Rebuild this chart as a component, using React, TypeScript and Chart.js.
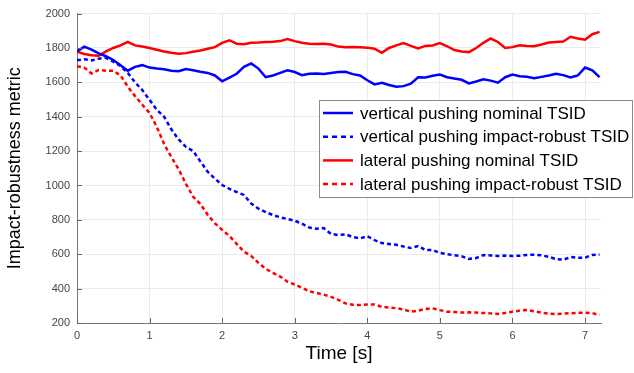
import React, { useEffect, useRef } from "react";
import { Chart, registerables } from "chart.js";

Chart.register(...registerables);

const TIME = [
  0, 0.1, 0.2, 0.3, 0.4, 0.5, 0.6, 0.7, 0.8, 0.9,
  1.0, 1.1, 1.2, 1.3, 1.4, 1.5, 1.6, 1.7, 1.8, 1.9,
  2.0, 2.1, 2.2, 2.3, 2.4, 2.5, 2.6, 2.7, 2.8, 2.9,
  3.0, 3.1, 3.2, 3.3, 3.4, 3.5, 3.6, 3.7, 3.8, 3.9,
  4.0, 4.1, 4.2, 4.3, 4.4, 4.5, 4.6, 4.7, 4.8, 4.9,
  5.0, 5.1, 5.2, 5.3, 5.4, 5.5, 5.6, 5.7, 5.8, 5.9,
  6.0, 6.1, 6.2, 6.3, 6.4, 6.5, 6.6, 6.7, 6.8, 6.9,
  7.0, 7.1, 7.2,
];

const VERTICAL_NOMINAL = [
  1780, 1808, 1790, 1768, 1752, 1730, 1700, 1668, 1690, 1700,
  1686, 1680, 1676, 1668, 1665, 1678, 1670, 1662, 1655, 1640,
  1606, 1628, 1650, 1690, 1710, 1680, 1630, 1640, 1655, 1670,
  1660, 1642, 1650, 1652, 1648, 1655, 1660, 1662, 1648, 1640,
  1612, 1588, 1598, 1585, 1575, 1578, 1592, 1630, 1628, 1638,
  1645, 1630, 1622, 1615, 1594, 1605, 1618, 1610, 1598, 1630,
  1645, 1636, 1632, 1624, 1632, 1640, 1650, 1642, 1628, 1640,
  1686, 1670, 1630,
];

const VERTICAL_ROBUST = [
  1728, 1735, 1728, 1738, 1742, 1720, 1695, 1655, 1600, 1555,
  1498, 1440, 1400, 1327, 1268, 1225, 1200, 1140, 1080, 1040,
  1003, 980, 962, 945, 895, 865, 845, 828, 815, 805,
  795, 778, 755, 748, 752, 718, 712, 716, 700, 692,
  705, 682, 665, 660, 655, 645, 636, 648, 625, 625,
  608, 600, 594, 588, 573, 578, 595, 593, 590, 592,
  590, 591, 596, 597, 594, 585, 572, 568, 584, 580,
  580, 596, 598,
];

const LATERAL_NOMINAL = [
  1779, 1765, 1758, 1755, 1780, 1800, 1815, 1836, 1815, 1808,
  1800, 1790, 1780, 1772, 1766, 1770, 1778, 1785, 1795, 1805,
  1830, 1845, 1825, 1822, 1830, 1832, 1835, 1836, 1840, 1852,
  1840, 1830, 1825, 1823, 1825, 1820, 1808, 1804, 1806, 1804,
  1802, 1796, 1772, 1800, 1815, 1828, 1812, 1798, 1812, 1815,
  1828, 1810, 1788, 1780, 1776, 1800, 1830, 1855, 1835, 1800,
  1805, 1816, 1812, 1810, 1820, 1832, 1835, 1838, 1865, 1855,
  1848, 1880, 1894,
];

const LATERAL_ROBUST = [
  1694, 1686, 1652, 1672, 1668, 1668, 1640, 1575, 1520, 1470,
  1422, 1340, 1241, 1165, 1095, 1010, 935, 893, 830, 780,
  742, 706, 660, 615, 590, 550, 515, 492, 470, 440,
  424, 405, 384, 375, 365, 352, 335, 314, 306, 305,
  308, 308, 294, 290, 286, 278, 266, 272, 282, 285,
  275, 266, 264, 261, 262, 261, 258, 256, 253, 258,
  266, 272, 276, 268, 260, 254, 252, 255, 257, 259,
  260, 258, 246,
];

const LEGEND_LABELS = [
  "vertical pushing nominal TSID",
  "vertical pushing impact-robust TSID",
  "lateral pushing nominal TSID",
  "lateral pushing impact-robust TSID",
];

const X_TITLE = "Time [s]";
const Y_TITLE = "Impact-robustness metric";

const FONT = "'Liberation Sans', Arial, Helvetica, sans-serif";

export default function App() {
  const ref = useRef<HTMLCanvasElement | null>(null);

  useEffect(() => {
    document.body.style.margin = "0";
    const canvas = ref.current;
    if (!canvas) return;

    const toPts = (ys: number[]) => TIME.map((t, i) => ({ x: t, y: ys[i] }));

    const tickMarks = {
      id: "tickMarks",
      afterDatasetsDraw(chart: any) {
        const { ctx, chartArea, scales } = chart;
        ctx.save();
        ctx.strokeStyle = "#666";
        ctx.lineWidth = 1;
        scales.x.ticks.forEach((t: any) => {
          const px = Math.round(scales.x.getPixelForValue(t.value)) + 0.5;
          ctx.beginPath();
          ctx.moveTo(px, chartArea.bottom);
          ctx.lineTo(px, chartArea.bottom - 5);
          ctx.stroke();
        });
        scales.y.ticks.forEach((t: any) => {
          const py = Math.round(scales.y.getPixelForValue(t.value)) + 0.5;
          ctx.beginPath();
          ctx.moveTo(chartArea.left, py);
          ctx.lineTo(chartArea.left + 5, py);
          ctx.stroke();
        });
        ctx.restore();
      },
    };

    const boxLegend = {
      id: "boxLegend",
      afterDraw(chart: any) {
        const { ctx } = chart;
        const bx = 319.5, by = 100.5, bw = 313, bh = 97;
        ctx.save();
        ctx.fillStyle = "#ffffff";
        ctx.fillRect(bx, by, bw, bh);
        ctx.strokeStyle = "#8a8a8a";
        ctx.lineWidth = 1;
        ctx.strokeRect(bx, by, bw, bh);
        ctx.font = `17px ${FONT}`;
        ctx.textBaseline = "middle";
        ctx.textAlign = "left";
        chart.data.datasets.forEach((ds: any, i: number) => {
          const y = 113 + i * 23.7;
          ctx.beginPath();
          ctx.strokeStyle = ds.borderColor;
          ctx.lineWidth = 2.5;
          ctx.setLineDash(ds.borderDash && ds.borderDash.length ? [5, 4] : []);
          ctx.moveTo(323, y);
          ctx.lineTo(353, y);
          ctx.stroke();
          ctx.setLineDash([]);
          ctx.fillStyle = "#000";
          ctx.fillText(ds.label, 360, y + 1);
        });
        ctx.restore();
      },
    };

    const chart = new Chart(canvas, {
      type: "line",
      data: {
        datasets: [
          { label: LEGEND_LABELS[0], data: toPts(VERTICAL_NOMINAL), borderColor: "#0000ff", borderDash: [] },
          { label: LEGEND_LABELS[1], data: toPts(VERTICAL_ROBUST), borderColor: "#0000ff", borderDash: [4, 3] },
          { label: LEGEND_LABELS[2], data: toPts(LATERAL_NOMINAL), borderColor: "#ff0000", borderDash: [] },
          { label: LEGEND_LABELS[3], data: toPts(LATERAL_ROBUST), borderColor: "#ff0000", borderDash: [4, 3] },
        ].map((d) => ({
          ...d,
          borderWidth: 2.5,
          pointRadius: 0,
          tension: 0,
          fill: false,
          backgroundColor: d.borderColor,
        })),
      },
      options: {
        responsive: false,
        animation: false,
        events: [],
        layout: { padding: { left: 0, top: 10, right: 33, bottom: 0 } },
        plugins: {
          legend: { display: false },
          tooltip: { enabled: false },
        },
        scales: {
          x: {
            type: "linear",
            min: 0,
            max: 7.22,
            grid: { color: "#ebebeb", drawTicks: false },
            border: { color: "#777", width: 1 },
            ticks: {
              stepSize: 1,
              includeBounds: false,
              padding: 6,
              color: "#444",
              font: { family: FONT, size: 11 },
              callback: (v: any) => String(v),
            },
            title: {
              display: true,
              text: X_TITLE,
              color: "#000",
              font: { family: FONT, size: 19 },
              padding: { top: 4, bottom: 8 },
            },
            afterFit(scale: any) {
              scale.height = 50;
            },
          },
          y: {
            min: 200,
            max: 2000,
            grid: { color: "#ebebeb", drawTicks: false },
            border: { color: "#777", width: 1 },
            ticks: {
              stepSize: 200,
              padding: 7,
              color: "#444",
              font: { family: FONT, size: 11 },
              callback: (v: any) => String(v),
            },
            title: {
              display: true,
              text: Y_TITLE,
              color: "#000",
              font: { family: FONT, size: 18 },
              padding: { top: 4, bottom: 4 },
            },
            afterFit(scale: any) {
              scale.width = 77;
            },
          },
        },
      },
      plugins: [tickMarks, boxLegend],
    } as any);

    return () => chart.destroy();
  }, []);

  return (
    <div style={{ width: 634, height: 373 }}>
      <canvas ref={ref} width={634} height={373} style={{ display: "block" }} />
    </div>
  );
}
